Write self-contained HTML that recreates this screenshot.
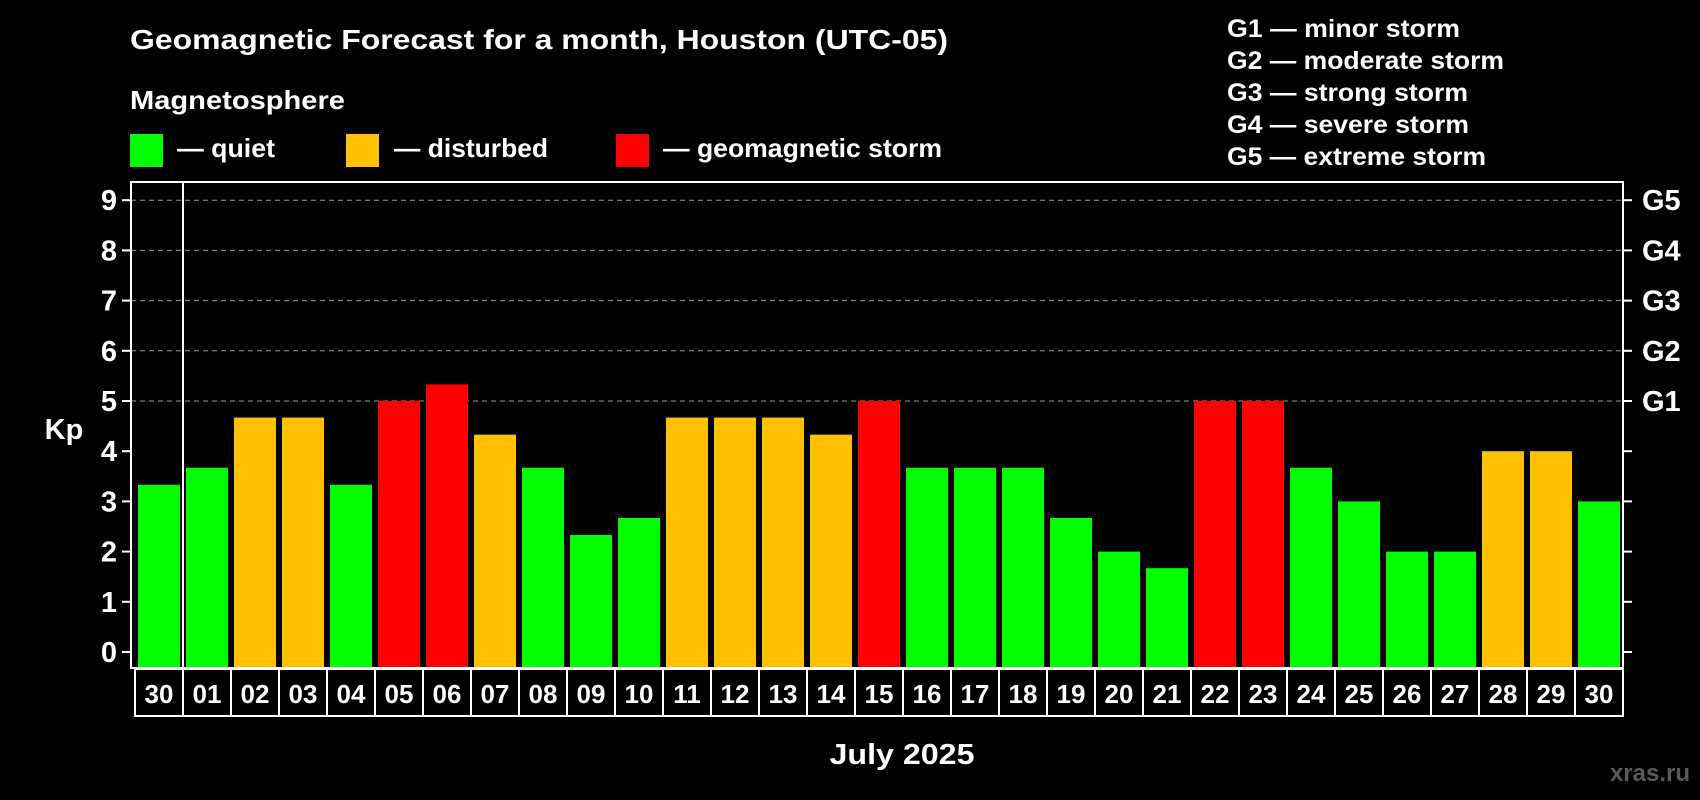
<!DOCTYPE html>
<html><head><meta charset="utf-8"><style>
html,body{margin:0;padding:0;background:#000;}
svg{display:block;font-family:"Liberation Sans",Arial,sans-serif;font-weight:bold;}
</style></head><body>
<svg id="chart" width="1700" height="800" viewBox="0 0 1700 800">
<rect width="1700" height="800" fill="#000"/>
<text x="130" y="49" fill="#fff" font-size="28" textLength="818" lengthAdjust="spacingAndGlyphs">Geomagnetic Forecast for a month, Houston (UTC-05)</text>
<text x="130" y="109" fill="#fff" font-size="26" textLength="215" lengthAdjust="spacingAndGlyphs">Magnetosphere</text>
<g><rect x="130" y="134" width="33" height="33" fill="#00ff00"/><text x="177" y="157" fill="#fff" font-size="26" textLength="98" lengthAdjust="spacingAndGlyphs">— quiet</text></g>
<g><rect x="346" y="134" width="33" height="33" fill="#ffc000"/><text x="394" y="157" fill="#fff" font-size="26" textLength="154" lengthAdjust="spacingAndGlyphs">— disturbed</text></g>
<g><rect x="616" y="134" width="33" height="33" fill="#ff0000"/><text x="663" y="157" fill="#fff" font-size="26" textLength="279" lengthAdjust="spacingAndGlyphs">— geomagnetic storm</text></g>
<g fill="#fff" font-size="25">
<text x="1227" y="37" textLength="233" lengthAdjust="spacingAndGlyphs">G1 — minor storm</text>
<text x="1227" y="69" textLength="277" lengthAdjust="spacingAndGlyphs">G2 — moderate storm</text>
<text x="1227" y="101" textLength="241" lengthAdjust="spacingAndGlyphs">G3 — strong storm</text>
<text x="1227" y="133" textLength="242" lengthAdjust="spacingAndGlyphs">G4 — severe storm</text>
<text x="1227" y="165" textLength="259" lengthAdjust="spacingAndGlyphs">G5 — extreme storm</text>
</g>
<text x="64" y="439" fill="#fff" font-size="29" text-anchor="middle">Kp</text>
<text x="902" y="764" fill="#fff" font-size="29" text-anchor="middle" textLength="145" lengthAdjust="spacingAndGlyphs">July 2025</text>
<text x="1690" y="781" fill="#5a5a5a" font-size="24" text-anchor="end">xras.ru</text>
<g id="plot"></g>
</svg>
<script>
const days = ["30","01","02","03","04","05","06","07","08","09","10","11","12","13","14","15","16","17","18","19","20","21","22","23","24","25","26","27","28","29","30"];
const kpValues = [3.33,3.67,4.67,4.67,3.33,5,5.33,4.33,3.67,2.33,2.67,4.67,4.67,4.67,4.33,5,3.67,3.67,3.67,2.67,2,1.67,5,5,3.67,3,2,2,4,4,3];
const yTicks = [0,1,2,3,4,5,6,7,8,9];
const gLabels = ["G1","G2","G3","G4","G5"];

const NS = "http://www.w3.org/2000/svg";
const plotG = document.getElementById("plot");
const plotLeft = 131, plotRight = 1623, plotTop = 182, plotBottom = 668;
const y0 = 652, unit = 50.2;
const x0 = 135, step = 48, barW = 42;
function yScale(v){ return y0 - v * unit; }
function xScale(i){ return x0 + i * step; }
function mk(tag, attrs){ const e = document.createElementNS(NS, tag); for (const k in attrs) e.setAttribute(k, attrs[k]); plotG.appendChild(e); return e; }
function barColor(v){ return v >= 5 ? "#ff0000" : (v >= 4 ? "#ffc000" : "#00ff00"); }

yTicks.forEach(t => {
  if (t >= 5) {
    const l = mk("line", {x1:plotLeft, x2:plotRight, y1:yScale(t), y2:yScale(t), stroke:"#9a9a9a", "stroke-width":1, "stroke-dasharray":"5,4"});
    
    
  }
  const tl = mk("line", {x1:plotLeft-9, x2:plotLeft, y1:yScale(t), y2:yScale(t), stroke:"#fff", "stroke-width":2});
  
  
  const tr = mk("line", {x1:plotRight, x2:plotRight+9, y1:yScale(t), y2:yScale(t), stroke:"#fff", "stroke-width":2});
  
  
  const tx = mk("text", {x:plotLeft-14, y:yScale(t)+10, fill:"#fff", "font-size":29, "text-anchor":"end"});
  tx.textContent = t;
  
  
});
gLabels.forEach((lab, i) => {
  const tx = mk("text", {x:plotRight+19, y:yScale(5+i)+10, fill:"#fff", "font-size":29});
  tx.textContent = lab;
  
  
});
kpValues.forEach((v, i) => {
  const r = mk("rect", {x:xScale(i)+3, y:yScale(v), width:barW, height:plotBottom - yScale(v), fill:barColor(v)});
  
  
});
const fr = mk("rect", {x:plotLeft, y:plotTop, width:plotRight-plotLeft, height:plotBottom-plotTop, fill:"none", stroke:"#fff", "stroke-width":2});


const dv = mk("line", {x1:xScale(1), x2:xScale(1), y1:plotTop, y2:plotBottom, stroke:"#fff", "stroke-width":2});


days.forEach((d, i) => {
  const c = mk("rect", {x:xScale(i), y:plotBottom+1, width:step, height:47, fill:"#000", stroke:"#fff", "stroke-width":2});
  
  
  const t = mk("text", {x:xScale(i)+step/2, y:plotBottom+35, fill:"#fff", "font-size":26, "text-anchor":"middle"});
  t.textContent = d;
  
  
});
</script>
</body></html>
